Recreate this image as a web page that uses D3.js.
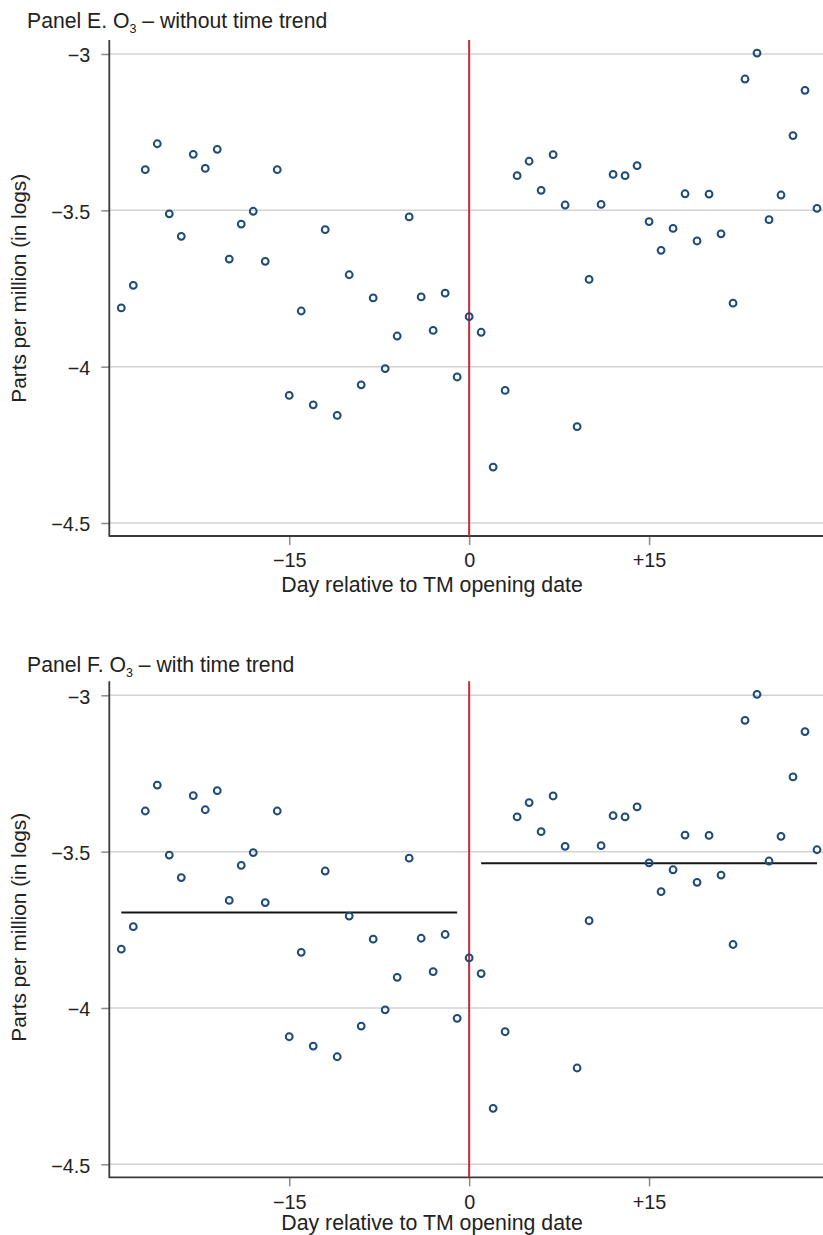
<!DOCTYPE html>
<html>
<head>
<meta charset="utf-8">
<script src="https://cdn.jsdelivr.net/npm/d3@7"></script>
<style>
  html, body { margin: 0; padding: 0; background: #ffffff; }
  svg { display: block; font-family: "Liberation Sans", Arial, Helvetica, sans-serif; }
</style>
</head>
<body>
<svg id="chart" width="823" height="1235"></svg>
<script>
// ---- Data ----
const days = [-29,-28,-27,-26,-25,-24,-23,-22,-21,-20,-19,-18,-17,-16,-15,-14,-13,-12,-11,-10,
  -9,-8,-7,-6,-5,-4,-3,-2,-1,0,1,2,3,4,5,6,7,8,9,10,11,12,13,14,15,16,17,18,19,20,
  21,22,23,24,25,26,27,28,29];
const o3 = [-3.812,-3.740,-3.370,-3.287,-3.511,-3.583,-3.321,-3.366,-3.305,-3.656,
  -3.544,-3.503,-3.663,-3.370,-4.092,-3.822,-4.122,-3.562,-4.156,-3.706,
  -4.058,-3.780,-4.006,-3.902,-3.521,-3.777,-3.884,-3.765,-4.033,-3.840,
  -3.890,-4.321,-4.076,-3.389,-3.343,-3.436,-3.322,-3.483,-4.192,-3.721,
  -3.481,-3.385,-3.389,-3.357,-3.536,-3.628,-3.558,-3.447,-3.598,-3.448,
  -3.575,-3.797,-3.080,-2.997,-3.530,-3.451,-3.261,-3.116,-3.494];
const yTicks = [-3, -3.5, -4, -4.5];
const yTickLabels = ["\u22123", "\u22123.5", "\u22124", "\u22124.5"];
const xTicks = [-15, 0, 15];
const xTickLabels = ["\u221215", "0", "+15"];
const trendStart = [-29, 1];
const trendEnd = [-1, 29];
const trendLevel = [-3.695, -3.537];
const panelNames = ["Panel E. O", "Panel F. O"];
const panelSuffix = [" \u2013 without time trend", " \u2013 with time trend"];
const xTitle = "Day relative to TM opening date";
const yTitle = "Parts per million (in logs)";

// ---- Layout ----
const svg = d3.select("#chart");
const plotLeft = 109.3, plotRight = 823;
const x = d3.scaleLinear().domain([-30, 29.5]).range([plotLeft, plotRight]);
const yDomain = [-4.5416, -2.9552];

const panels = [
  { top: 40, bottom: 536, titleY: 28, yTitleY: 288.3, xLabY: 567, xTitleY: 592, trend: false },
  { top: 681.3, bottom: 1177.3, titleY: 672, yTitleY: 927.3, xLabY: 1209, xTitleY: 1230, trend: true }
];

const textColor = "#222222";

panels.forEach((p, i) => {
  const y = d3.scaleLinear().domain(yDomain).range([p.bottom, p.top]);
  const g = svg.append("g");

  // gridlines
  g.selectAll("line.grid").data(yTicks).join("line")
    .attr("class", "grid")
    .attr("x1", plotLeft).attr("x2", plotRight)
    .attr("y1", d => y(d)).attr("y2", d => y(d))
    .attr("stroke", "#d2d2d2").attr("stroke-width", 1.5);

  // y axis
  const yAxis = d3.axisLeft(y).tickValues(yTicks)
    .tickFormat((d, k) => yTickLabels[k]).tickSize(8).tickPadding(11);
  const ya = g.append("g").attr("transform", `translate(${plotLeft},0)`).call(yAxis);
  ya.select(".domain").remove();
  ya.selectAll(".tick line").attr("stroke", "#8a8a8a").attr("stroke-width", 1.5);
  ya.selectAll(".tick text").attr("font-size", "19.8px").attr("fill", textColor)
    .attr("font-family", "Liberation Sans, Arial, sans-serif").attr("dy", "0.4em");

  // x axis
  const xAxis = d3.axisBottom(x).tickValues(xTicks)
    .tickFormat((d, k) => xTickLabels[k]).tickSize(9).tickPadding(4);
  const xa = g.append("g").attr("transform", `translate(0,${p.bottom})`).call(xAxis);
  xa.select(".domain").remove();
  xa.selectAll(".tick line").attr("stroke", "#8a8a8a").attr("stroke-width", 1.5);
  xa.selectAll(".tick text").attr("font-size", "19.8px").attr("fill", textColor)
    .attr("font-family", "Liberation Sans, Arial, sans-serif")
    .attr("y", null).attr("dy", null)
    .attr("transform", `translate(0,${p.xLabY - p.bottom})`);

  // axis lines
  g.append("line").attr("x1", plotLeft).attr("x2", plotLeft)
    .attr("y1", p.top).attr("y2", p.bottom + 0.8)
    .attr("stroke", "#3a3a3a").attr("stroke-width", 1.8);
  g.append("line").attr("x1", plotLeft).attr("x2", plotRight)
    .attr("y1", p.bottom).attr("y2", p.bottom)
    .attr("stroke", "#3a3a3a").attr("stroke-width", 1.8);

  // red vertical line at day 0
  g.append("line").attr("x1", x(0)).attr("x2", x(0))
    .attr("y1", p.top).attr("y2", p.bottom)
    .attr("stroke", "#c8283c").attr("stroke-width", 2);

  // trend lines (panel F)
  if (p.trend) {
    g.selectAll("line.trend").data(trendLevel).join("line")
      .attr("class", "trend")
      .attr("x1", (d, k) => x(trendStart[k])).attr("x2", (d, k) => x(trendEnd[k]))
      .attr("y1", d => y(d)).attr("y2", d => y(d))
      .attr("stroke", "#161616").attr("stroke-width", 2);
  }

  // points
  g.selectAll("circle").data(o3).join("circle")
    .attr("cx", (d, k) => x(days[k])).attr("cy", d => y(d))
    .attr("r", 3.4).attr("fill", "none")
    .attr("stroke", "#1d4a78").attr("stroke-width", 2);

  // title
  const t = g.append("text").attr("x", 27).attr("y", p.titleY)
    .attr("font-size", "21.2px").attr("fill", textColor);
  t.append("tspan").text(panelNames[i]);
  t.append("tspan").attr("font-size", "12.5px").attr("dy", 5).text("3");
  t.append("tspan").attr("dy", -5).text(panelSuffix[i]);

  // y title
  g.append("text")
    .attr("transform", `translate(26,${p.yTitleY}) rotate(-90)`)
    .attr("text-anchor", "middle").attr("font-size", "20.8px").attr("fill", textColor)
    .text(yTitle);

  // x title
  g.append("text").attr("x", 432).attr("y", p.xTitleY)
    .attr("text-anchor", "middle").attr("font-size", "21.3px").attr("fill", textColor)
    .text(xTitle);
});
</script>
</body>
</html>
